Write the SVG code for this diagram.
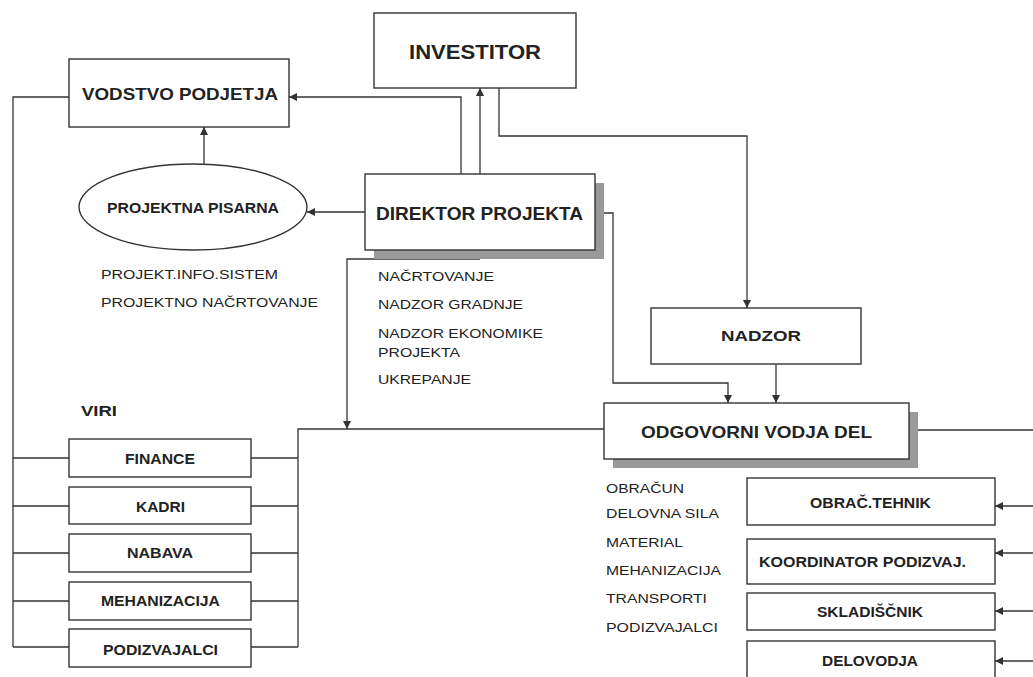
<svg xmlns="http://www.w3.org/2000/svg" width="1033" height="677" viewBox="0 0 1033 677">
  <style>
    .box { fill: #fff; stroke: #333; stroke-width: 1.4; }
    .shadow { fill: #9a9a9a; }
    .ln { fill: none; stroke: #333; stroke-width: 1.3; }
    .arr { marker-end: url(#ah); }
    text { font-family: "Liberation Sans", Arial, sans-serif; fill: #222; }
    .b { font-weight: bold; }
    .mid { text-anchor: middle; }
    .t { font-size: 13px; }
  </style>
  <defs>
    <marker id="ah" viewBox="0 0 10 10" refX="10" refY="5" markerWidth="8" markerHeight="8" markerUnits="userSpaceOnUse" orient="auto">
      <path d="M0,0 L10,5 L0,10 Z" fill="#333"/>
    </marker>
  </defs>

  <rect width="1033" height="677" fill="#fff"/>

  <!-- connectors -->
  <g id="connectors">
    <polyline class="ln" points="69,97 13,97 13,647"/>
    <line class="ln" x1="13" y1="458" x2="69" y2="458"/>
    <line class="ln" x1="13" y1="506" x2="69" y2="506"/>
    <line class="ln" x1="13" y1="553" x2="69" y2="553"/>
    <line class="ln" x1="13" y1="601" x2="69" y2="601"/>
    <line class="ln" x1="13" y1="647" x2="69" y2="647"/>
    <line class="ln" x1="251" y1="458" x2="298" y2="458"/>
    <line class="ln" x1="251" y1="506" x2="298" y2="506"/>
    <line class="ln" x1="251" y1="553" x2="298" y2="553"/>
    <line class="ln" x1="251" y1="601" x2="298" y2="601"/>
    <line class="ln" x1="251" y1="647" x2="298" y2="647"/>
    <polyline class="ln" points="298,647 298,429 604,429"/>
    <polyline class="ln arr" points="480,259 347,259 347,429"/>
    <line class="ln" x1="480" y1="250" x2="480" y2="259"/>
    <polyline class="ln arr" points="461,174 461,97 289,97"/>
    <line class="ln arr" x1="480" y1="174" x2="480" y2="88"/>
    <polyline class="ln arr" points="499,88 499,136 747,136 747,308"/>
    <polyline class="ln arr" points="595,213 613,213 613,383 728,383 728,403"/>
    <line class="ln arr" x1="776" y1="364" x2="776" y2="403"/>
    <line class="ln arr" x1="204" y1="164" x2="204" y2="127"/>
    <line class="ln arr" x1="365" y1="212" x2="307" y2="212"/>
    <line class="ln" x1="918" y1="430" x2="1033" y2="430"/>
    <line class="ln arr" x1="1033" y1="506" x2="995" y2="506"/>
    <line class="ln arr" x1="1033" y1="553" x2="995" y2="553"/>
    <line class="ln arr" x1="1033" y1="611" x2="995" y2="611"/>
    <line class="ln arr" x1="1033" y1="661" x2="995" y2="661"/>
  </g>

  <g id="investitor">
    <rect class="box" x="374" y="13" width="202" height="75"/>
    <text class="b" x="409" y="59" font-size="20" textLength="132" lengthAdjust="spacingAndGlyphs">INVESTITOR</text>
  </g>

  <g id="vodstvo">
    <rect class="box" x="69" y="59" width="220" height="68"/>
    <text class="b" x="82" y="100" font-size="16.5" textLength="196" lengthAdjust="spacingAndGlyphs">VODSTVO PODJETJA</text>
  </g>

  <g id="pisarna">
    <ellipse class="box" cx="193" cy="207" rx="114" ry="43"/>
    <text class="b" x="107" y="213" font-size="14.5" textLength="172" lengthAdjust="spacingAndGlyphs">PROJEKTNA PISARNA</text>
    <text class="t" x="101" y="279" textLength="177" lengthAdjust="spacingAndGlyphs">PROJEKT.INFO.SISTEM</text>
    <text class="t" x="101" y="307" textLength="217" lengthAdjust="spacingAndGlyphs">PROJEKTNO NAČRTOVANJE</text>
  </g>

  <g id="direktor">
    <rect class="shadow" x="374" y="183" width="230" height="76"/>
    <rect class="box" x="365" y="174" width="230" height="76"/>
    <text class="b" x="376" y="220" font-size="18.5" textLength="207" lengthAdjust="spacingAndGlyphs">DIREKTOR PROJEKTA</text>
    <text class="t" x="378" y="281" textLength="116" lengthAdjust="spacingAndGlyphs">NAČRTOVANJE</text>
    <text class="t" x="378" y="309" textLength="145" lengthAdjust="spacingAndGlyphs">NADZOR GRADNJE</text>
    <text class="t" x="378" y="338" textLength="165" lengthAdjust="spacingAndGlyphs">NADZOR EKONOMIKE</text>
    <text class="t" x="378" y="357" textLength="82" lengthAdjust="spacingAndGlyphs">PROJEKTA</text>
    <text class="t" x="378" y="384" textLength="93" lengthAdjust="spacingAndGlyphs">UKREPANJE</text>
  </g>

  <g id="nadzor">
    <rect class="box" x="651" y="308" width="210" height="56"/>
    <text class="b" x="721" y="341" font-size="15.5" textLength="80" lengthAdjust="spacingAndGlyphs">NADZOR</text>
  </g>

  <g id="odgovorni">
    <rect class="shadow" x="613" y="412" width="305" height="56"/>
    <rect class="box" x="604" y="403" width="305" height="56"/>
    <text class="b" x="641" y="438" font-size="16.5" textLength="231" lengthAdjust="spacingAndGlyphs">ODGOVORNI VODJA DEL</text>
    <text class="t" x="606" y="493" textLength="78" lengthAdjust="spacingAndGlyphs">OBRAČUN</text>
    <text class="t" x="606" y="518" textLength="113" lengthAdjust="spacingAndGlyphs">DELOVNA SILA</text>
    <text class="t" x="606" y="547" textLength="77" lengthAdjust="spacingAndGlyphs">MATERIAL</text>
    <text class="t" x="606" y="575" textLength="115" lengthAdjust="spacingAndGlyphs">MEHANIZACIJA</text>
    <text class="t" x="606" y="603" textLength="101" lengthAdjust="spacingAndGlyphs">TRANSPORTI</text>
    <text class="t" x="606" y="632" textLength="112" lengthAdjust="spacingAndGlyphs">PODIZVAJALCI</text>
  </g>

  <g id="viri">
    <text class="b" x="81" y="416" font-size="15" textLength="36" lengthAdjust="spacingAndGlyphs">VIRI</text>
  </g>

  <g id="finance">
    <rect class="box" x="69" y="439" width="182" height="38"/>
    <text class="b" x="125" y="464" font-size="14" textLength="70" lengthAdjust="spacingAndGlyphs">FINANCE</text>
  </g>
  <g id="kadri">
    <rect class="box" x="69" y="487" width="182" height="37"/>
    <text class="b" x="136" y="512" font-size="14" textLength="49" lengthAdjust="spacingAndGlyphs">KADRI</text>
  </g>
  <g id="nabava">
    <rect class="box" x="69" y="534" width="182" height="38"/>
    <text class="b" x="127" y="558" font-size="14" textLength="66" lengthAdjust="spacingAndGlyphs">NABAVA</text>
  </g>
  <g id="mehanizacija">
    <rect class="box" x="69" y="582" width="182" height="38"/>
    <text class="b" x="101" y="606" font-size="14" textLength="119" lengthAdjust="spacingAndGlyphs">MEHANIZACIJA</text>
  </g>
  <g id="podizvajalci">
    <rect class="box" x="69" y="629" width="182" height="38"/>
    <text class="b" x="103" y="655" font-size="14" textLength="115" lengthAdjust="spacingAndGlyphs">PODIZVAJALCI</text>
  </g>

  <g id="obrac-tehnik">
    <rect class="box" x="747" y="478" width="248" height="47"/>
    <text class="b" x="810" y="508" font-size="14" textLength="121" lengthAdjust="spacingAndGlyphs">OBRAČ.TEHNIK</text>
  </g>
  <g id="koordinator">
    <rect class="box" x="747" y="539" width="248" height="45"/>
    <text class="b" x="759" y="567" font-size="14" textLength="207" lengthAdjust="spacingAndGlyphs">KOORDINATOR PODIZVAJ.</text>
  </g>
  <g id="skladiscnik">
    <rect class="box" x="747" y="593" width="248" height="37"/>
    <text class="b" x="817" y="617" font-size="14" textLength="106" lengthAdjust="spacingAndGlyphs">SKLADIŠČNIK</text>
  </g>
  <g id="delovodja">
    <rect class="box" x="747" y="641" width="248" height="50"/>
    <text class="b" x="822" y="666" font-size="14" textLength="96" lengthAdjust="spacingAndGlyphs">DELOVODJA</text>
  </g>
</svg>
